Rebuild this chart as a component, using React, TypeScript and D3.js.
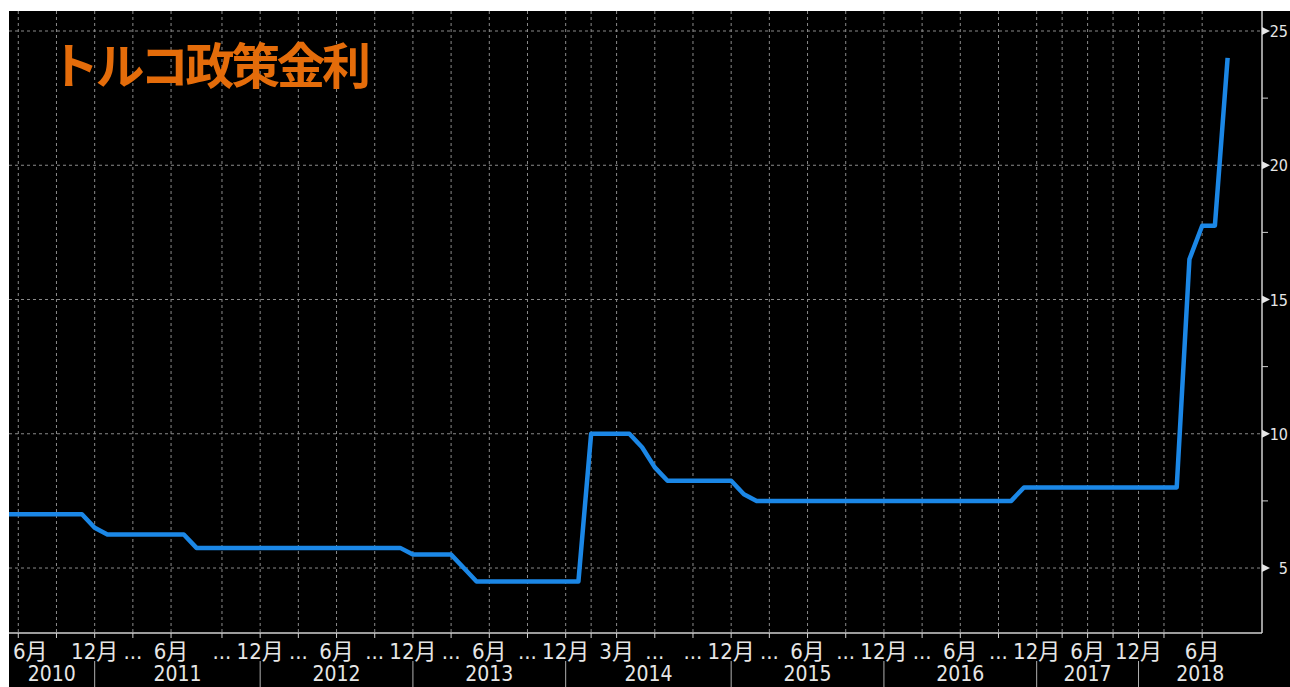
import * as d3 from "d3";

const W = 1290;
const H = 687;

// Bloomberg-style axis: x is an observation index (one step ~ one month)
const obsIndex = [-1, 5, 6, 7, 13, 14, 30, 31, 34, 35, 36, 44, 45, 48, 49, 50, 51, 56, 57, 58, 78, 79, 91, 92, 93, 94, 95];
const rate = [7, 7, 6.5, 6.25, 6.25, 5.75, 5.75, 5.5, 5.5, 5, 4.5, 4.5, 10, 10, 9.5, 8.75, 8.25, 8.25, 7.75, 7.5, 7.5, 8, 8, 16.5, 17.75, 17.75, 24];

// month ticks along the bottom
const tickIndex = [0, 3, 6, 9, 12, 16, 19, 22, 25, 28, 31, 34, 37, 40, 43, 45, 47, 50, 53, 56, 59, 62, 65, 68, 71, 74, 77, 80, 82, 84, 86, 88, 90, 93];
const tickLabels = ["6月", "", "12月", "...", "6月", "...", "12月", "...", "6月", "...", "12月", "...", "6月", "...", "12月", "", "3月", "...", "...", "12月", "...", "6月", "...", "12月", "...", "6月", "...", "12月", "", "6月", "", "12月", "", "6月"];

const years = ["2010", "2011", "2012", "2013", "2014", "2015", "2016", "2017", "2018"];
const yearBreaks = [6, 19, 31, 43, 56, 68, 80, 88]; // index where each year ends

const yTicks = [5, 10, 15, 20, 25];
const yMinor = [7.5, 12.5, 17.5, 22.5];

const title = "トルコ政策金利";

const labelFont = "'Liberation Sans Narrow', 'DejaVu Sans Condensed', 'Noto Sans CJK JP', sans-serif";

export default function App() {
  const left = 9;
  const right = 1262;
  const top = 11;
  const bottom = 633;

  const x = d3.scaleLinear().domain([-0.73, 97.7]).range([left, right]);
  const y = d3.scaleLinear().domain([2.58, 25.745]).range([bottom, top]);

  const pts: [number, number][] = obsIndex.map((d, i) => [d, rate[i]]);
  const line = d3
    .line<[number, number]>()
    .x((d) => x(d[0]))
    .y((d) => y(d[1]));

  const dom = x.domain();
  const bounds = [dom[0], ...yearBreaks, dom[1]];

  return (
    <svg
      width={W}
      height={H}
      style={{ position: "absolute", left: 0, top: 0, display: "block" }}
    >
      <defs>
        <clipPath id="plot">
          <rect x={left} y={top} width={right - left} height={bottom - top} />
        </clipPath>
      </defs>
      <rect x={0} y={0} width={W} height={H} fill="#fff" />
      <rect x={left} y={top} width={W - left} height={H - top} fill="#000" />

      {/* grid */}
      {tickIndex.map((t, i) => (
        <line
          key={"gx" + i}
          x1={x(t)}
          x2={x(t)}
          y1={top}
          y2={bottom}
          stroke="#8a8a8a"
          strokeWidth={1}
          strokeDasharray="3,3"
        />
      ))}
      {yTicks.map((v) => (
        <line
          key={"gy" + v}
          x1={left}
          x2={right}
          y1={y(v)}
          y2={y(v)}
          stroke="#8a8a8a"
          strokeWidth={1}
          strokeDasharray="3,3"
        />
      ))}

      {/* title */}
      <text
        x={50}
        y={84}
        fill="#e46c0a"
        fontFamily="'Noto Sans CJK JP', sans-serif"
        fontWeight={700}
        fontSize={49}
        letterSpacing={-3.5}
      >
        {title}
      </text>

      {/* series */}
      <path
        d={line(pts) || ""}
        fill="none"
        stroke="#1b87e6"
        strokeWidth={4.5}
        strokeLinejoin="round"
        clipPath="url(#plot)"
      />

      {/* axes */}
      <line x1={left} x2={right} y1={bottom} y2={bottom} stroke="#d0d0d0" strokeWidth={1.5} />
      <line x1={right} x2={right} y1={top} y2={bottom} stroke="#d0d0d0" strokeWidth={1.5} />

      {tickIndex.map((t, i) => {
        // keep the first label inside the black panel
        const nearEdge = x(t) - 15 < left;
        return (
          <g key={"tx" + i}>
            <line x1={x(t)} x2={x(t)} y1={bottom} y2={bottom + 5} stroke="#d0d0d0" strokeWidth={1} />
            <text
              x={nearEdge ? left + 4 : x(t)}
              y={659}
              fill="#e6e6e6"
              fontFamily={labelFont}
              fontSize={22}
              textAnchor={nearEdge ? "start" : "middle"}
            >
              {tickLabels[i]}
            </text>
          </g>
        );
      })}

      {yearBreaks.map((b) => (
        <line key={"yb" + b} x1={x(b)} x2={x(b)} y1={661} y2={H} stroke="#b0b0b0" strokeWidth={1} />
      ))}
      {years.map((yr, i) => (
        <text
          key={yr}
          x={(x(bounds[i]) + x(bounds[i + 1])) / 2}
          y={681}
          fill="#e6e6e6"
          fontFamily={labelFont}
          fontSize={21}
          textAnchor="middle"
        >
          {yr}
        </text>
      ))}

      {yMinor.map((v) => (
        <line key={"ym" + v} x1={right} x2={right + 6} y1={y(v)} y2={y(v)} stroke="#d0d0d0" strokeWidth={1} />
      ))}
      {yTicks.map((v) => (
        <g key={"yt" + v}>
          <path
            d={`M${right},${y(v) - 4}L${right + 8},${y(v)}L${right},${y(v) + 4}Z`}
            fill="#e6e6e6"
          />
          <text
            x={W - 2}
            y={y(v) + 6}
            fill="#e6e6e6"
            fontFamily={labelFont}
            fontSize={16}
            textAnchor="end"
          >
            {v}
          </text>
        </g>
      ))}
    </svg>
  );
}
